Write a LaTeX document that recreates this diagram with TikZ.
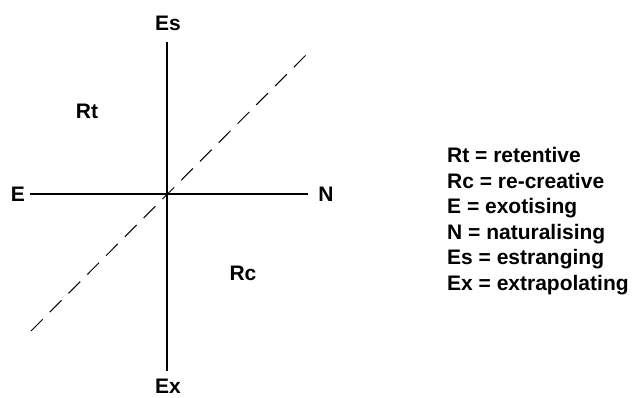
\documentclass[tikz,border=0pt]{standalone}
\usepackage{fontspec}
\setmainfont{Liberation Sans}
\usetikzlibrary{positioning}
\tikzset{
    every node/.style={font=\fontsize{21}{25.6}\selectfont\bfseries},
    axis/.style={draw=black,line width=1.1pt},
    diag/.style={draw=black,line width=1pt,dash pattern=on 16.6pt off 10pt},
    pole/.style={inner sep=0pt},
    zone/.style={inner sep=0pt},
    legend/.style={align=left,inner sep=0pt,anchor=north west}
}
\begin{document}
\begin{tikzpicture}[x=1pt,y=-1pt]
\useasboundingbox (0,0) rectangle (635,397);
% axes
\coordinate (O) at (167,194);
\coordinate (top) at (167,42);
\coordinate (bot) at (167,371);
\coordinate (left) at (30,194);
\coordinate (right) at (308,194);
\coordinate (dlo) at (31,331);
\coordinate (dhi) at (306,55);
\node[pole] (Es) at (168,23) {Es};
\node[pole] (Ex) at (168,386) {Ex};
\node[pole] (E) at (18,194) {E};
\node[pole] (N) at (326,194) {N};
\node[zone] (Rt) at (87,111) {Rt};
\node[zone] (Rc) at (243,273) {Rc};
\draw[axis] (top) -- (bot);
\draw[axis] (left) -- (right);
\draw[diag] (dlo) -- (dhi);
% key
\node[legend] (key) at (447,147) {Rt = retentive\\
Rc = re-creative\\
E = exotising\\
N = naturalising\\
Es = estranging\\
Ex = extrapolating};
\end{tikzpicture}
\end{document}
